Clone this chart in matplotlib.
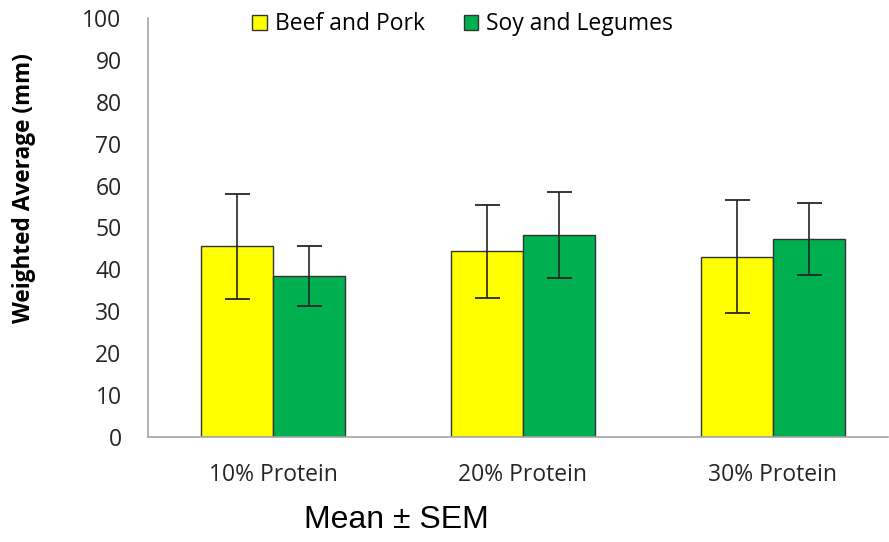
import matplotlib
matplotlib.use("Agg")
import matplotlib.pyplot as plt
import numpy as np

categories = ["10% Protein", "20% Protein", "30% Protein"]
series_names = ["Beef and Pork", "Soy and Legumes"]
beef_pork = [45.5, 44.3, 43.0]
beef_pork_sem = [12.5, 11.1, 13.5]
soy_legumes = [38.4, 48.2, 47.3]
soy_legumes_sem = [7.2, 10.2, 8.6]
yticks = list(range(0, 101, 10))

plt.rcParams['font.family'] = ['Open Sans', 'DejaVu Sans']

fig = plt.figure(figsize=(8.89, 5.42), dpi=100)
ax = fig.add_axes([148/889, 1-437/542, 740/889, 419/542])

x = np.arange(len(categories))
w = 0.287
ekw = dict(ecolor="#262626", elinewidth=1.2, capsize=9, capthick=1.3)
ax.bar(x - w/2, beef_pork, w, color="#FFFF00", edgecolor="#333333", linewidth=1.0,
       yerr=beef_pork_sem, error_kw=ekw, label=series_names[0], zorder=2)
ax.bar(x + w/2, soy_legumes, w, color="#00B050", edgecolor="#333333", linewidth=1.0,
       yerr=soy_legumes_sem, error_kw=ekw, label=series_names[1], zorder=2)

ax.set_xlim(-0.5, 2.46)
ax.set_ylim(0, 100)
ax.set_yticks(yticks)
ax.set_xticks(x)
ax.set_xticklabels(categories)
ax.tick_params(axis='both', length=0, labelsize=16.5, colors="#262626")
ax.tick_params(axis='x', pad=19)
ax.tick_params(axis='y', pad=19)
for s in ["top", "right"]:
    ax.spines[s].set_visible(False)
for s in ["left", "bottom"]:
    ax.spines[s].set_color("#A6A6A6")
    ax.spines[s].set_linewidth(1.2)

ax.set_ylabel("Weighted Average (mm)", fontsize=16.3, fontweight="bold", color="#000000")
ax.yaxis.set_label_coords(-0.152, 0.595)

leg = ax.legend(loc="center", bbox_to_anchor=(0.425, 0.985), ncol=2, frameon=False,
                fontsize=16.5, handlelength=0.65, handleheight=0.65, handletextpad=0.35,
                columnspacing=1.7, borderpad=0, borderaxespad=0)

fig.text(396/889, 1-520/542, "Mean \u00b1 SEM", ha="center", va="center",
         fontsize=23, family=["Liberation Sans", "DejaVu Sans"], color="#000000")

fig.savefig("out.png", dpi=100)
